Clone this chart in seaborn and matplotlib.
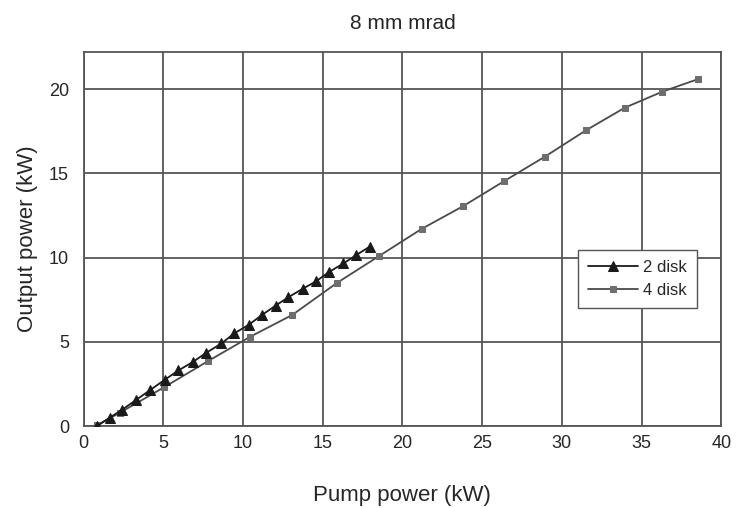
import matplotlib
matplotlib.use("Agg")
import matplotlib.pyplot as plt
import seaborn as sns
import pandas as pd

title = "8 mm mrad"
x_label = "Pump power (kW)"
y_label = "Output power (kW)"

pump_2disk = [0.85, 1.65, 2.4, 3.3, 4.2, 5.1, 5.95, 6.85, 7.7, 8.65, 9.45,
              10.35, 11.2, 12.05, 12.85, 13.75, 14.6, 15.4, 16.3, 17.1, 17.95]
out_2disk = [0.0, 0.5, 0.95, 1.55, 2.15, 2.75, 3.3, 3.8, 4.35, 4.9, 5.5,
             6.0, 6.6, 7.15, 7.65, 8.15, 8.6, 9.15, 9.65, 10.15, 10.65]

pump_4disk = [0.85, 2.3, 5.05, 7.8, 10.45, 13.1, 15.9, 18.55, 21.2, 23.8,
              26.4, 28.95, 31.5, 33.95, 36.3, 38.55]
out_4disk = [0.05, 0.8, 2.3, 3.85, 5.3, 6.6, 8.5, 10.1, 11.7, 13.05,
             14.55, 16.0, 17.55, 18.9, 19.85, 20.6]

x_ticks = [0, 5, 10, 15, 20, 25, 30, 35, 40]
y_ticks = [0, 5, 10, 15, 20]

sns.set_style("white")
plt.rcParams['font.family'] = ['Liberation Sans', 'DejaVu Sans']

df2 = pd.DataFrame({"pump": pump_2disk, "out": out_2disk})
df4 = pd.DataFrame({"pump": pump_4disk, "out": out_4disk})

fig = plt.figure(figsize=(7.36, 5.08), dpi=100)
ax = fig.add_axes([0.1135, 0.1614, 0.8665, 0.736])

for x in x_ticks:
    ax.axvline(x, color="#555555", lw=1.3, zorder=0)
for y in y_ticks:
    ax.axhline(y, color="#555555", lw=1.3, zorder=0)

sns.lineplot(data=df2, x="pump", y="out", ax=ax, color="#1a1a1a", lw=1.3,
             marker="^", markersize=6.5, markeredgecolor="#1a1a1a",
             label="2 disk", zorder=3)
sns.lineplot(data=df4, x="pump", y="out", ax=ax, color="#4a4a4a", lw=1.3,
             marker="s", markersize=4.5, markerfacecolor="#6e6e6e",
             markeredgecolor="#6e6e6e", label="4 disk", zorder=2)

ax.set_xlim(0, 40)
ax.set_ylim(0, 22.2)
ax.set_xticks(x_ticks)
ax.set_yticks(y_ticks)
ax.tick_params(axis="both", labelsize=13, direction="inout", length=7,
               width=1.0, color="#555555")
ax.tick_params(axis="x", pad=3)
ax.tick_params(axis="y", pad=7)
for s in ax.spines.values():
    s.set_color("#555555")
    s.set_linewidth(1.3)

ax.set_xlabel(x_label, fontsize=16, labelpad=24)
ax.set_ylabel(y_label, fontsize=16, labelpad=8)
ax.set_title(title, fontsize=15, pad=17)

leg = ax.legend(loc="upper left", bbox_to_anchor=(0.776, 0.47),
                borderaxespad=0, fontsize=12, frameon=True, fancybox=False,
                handlelength=3.0, handletextpad=0.3, borderpad=0.6,
                labelspacing=0.45)
leg.get_frame().set_edgecolor("#555555")
leg.get_frame().set_linewidth(1.0)
leg.get_frame().set_alpha(1)

fig.savefig("out.png", dpi=100)
